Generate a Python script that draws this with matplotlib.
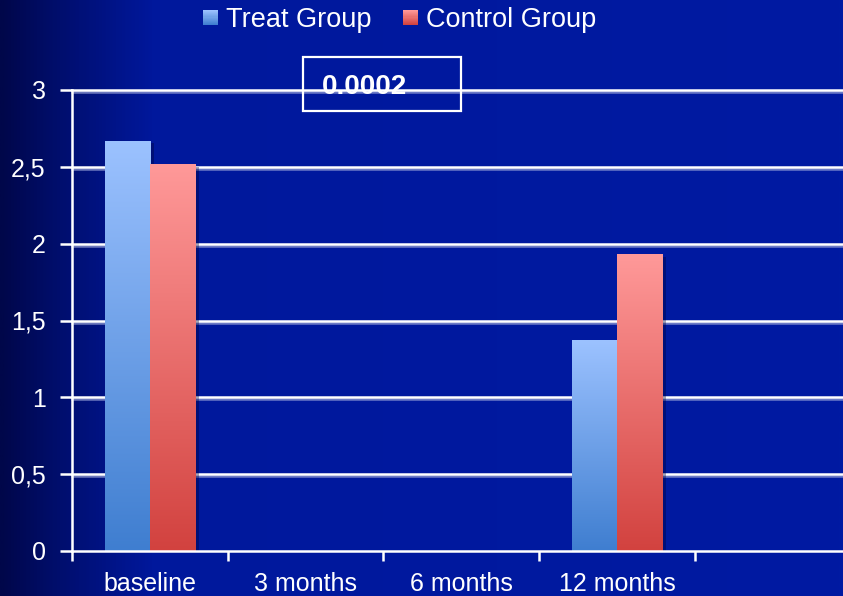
import numpy as np
import matplotlib
matplotlib.use("Agg")
import matplotlib.pyplot as plt
import matplotlib.patheffects as pe
from matplotlib.patches import Rectangle
from matplotlib.colors import LinearSegmentedColormap, to_rgb
from matplotlib.legend_handler import HandlerBase

# ---- data -------------------------------------------------------------
categories = ["baseline", "3 months", "6 months", "12 months", ""]
treat = [2.67, np.nan, np.nan, 1.37, np.nan]
control = [2.52, np.nan, np.nan, 1.93, np.nan]
y_ticks = [0, 0.5, 1, 1.5, 2, 2.5, 3]
y_tick_labels = ["0", "0,5", "1", "1,5", "2", "2,5", "3"]
series_names = ["Treat Group", "Control Group"]
p_value_label = "0.0002"

# ---- style ------------------------------------------------------------
plt.rcParams['font.family'] = ['Liberation Sans', 'DejaVu Sans']
TREAT_TOP, TREAT_BOTTOM = "#9cc2ff", "#3f7ed0"
CTRL_TOP, CTRL_BOTTOM = "#ff9999", "#d2423f"
W, H = 843, 596

fig = plt.figure(figsize=(W / 100, H / 100), dpi=100)

# background: dark navy on the left fading into royal blue
bg = fig.add_axes([0, 0, 1, 1], zorder=-10)
bg.set_axis_off()
bg_cmap = LinearSegmentedColormap.from_list(
    "bg", [(0.0, "#00074a"), (0.07, "#000e6e"), (0.18, "#00189c"), (1.0, "#001aa2")])
bg.imshow(np.linspace(0, 1, 800)[None, :], cmap=bg_cmap, aspect="auto",
          extent=[0, 1, 0, 1], interpolation="bilinear")

# plot area (in pixels: x 72..843, y 90..551)
ax_left, ax_right, ax_top, ax_bottom = 72, 843, 90, 551
ax = fig.add_axes([ax_left / W, 1 - ax_bottom / H,
                   (ax_right - ax_left) / W, (ax_bottom - ax_top) / H])
ax.patch.set_visible(False)

slot_px = 155.7
n = len(categories)
x = np.arange(n)
xlim = (-0.5, -0.5 + (ax_right - ax_left) / slot_px)
ylim = (0, 3)

# gridlines with a soft shadow
for yv in y_ticks[1:]:
    ax.axhline(yv, color="white", lw=1.8, zorder=1, clip_on=False,
               path_effects=[pe.SimpleLineShadow(offset=(0, -1.5), shadow_color="#9aa4d8", alpha=0.7),
                             pe.Normal()])

# bars with vertical gradients
bw = 0.29


def gradient_bars(xpos, values, c_top, c_bottom):
    bars = ax.bar(xpos, values, bw, color=c_bottom, zorder=3, linewidth=0,
                  path_effects=[pe.SimplePatchShadow(offset=(3, -2), shadow_rgbFace="#000030", alpha=0.35),
                                pe.Normal()])
    cmap = LinearSegmentedColormap.from_list("g", [c_bottom, c_top])
    for b, v in zip(bars, values):
        if not np.isfinite(v):
            continue
        x0 = b.get_x()
        im = ax.imshow(np.linspace(0, 1, 256)[:, None], cmap=cmap, origin="lower",
                       extent=[x0, x0 + b.get_width(), 0, v], aspect="auto",
                       zorder=4, interpolation="bilinear")
        im.set_clip_path(b)
    return bars


gradient_bars(x - bw / 2, treat, TREAT_TOP, TREAT_BOTTOM)
gradient_bars(x + bw / 2, control, CTRL_TOP, CTRL_BOTTOM)

# axes styling
for s in ["top", "right"]:
    ax.spines[s].set_visible(False)
for s in ["left", "bottom"]:
    ax.spines[s].set_color("white")
    ax.spines[s].set_linewidth(1.8)
    ax.spines[s].set_zorder(5)

ax.set_yticks(y_ticks)
ax.set_yticklabels(y_tick_labels)
ax.tick_params(axis="y", colors="white", length=9, width=1.8, pad=10, labelsize=18)

ax.set_xticks(np.arange(n + 1) - 0.5)
ax.set_xticklabels([])
ax.tick_params(axis="x", which="major", colors="white", length=7, width=1.8)
ax.set_xticks(x, minor=True)
ax.set_xticklabels(categories, minor=True)
ax.tick_params(axis="x", which="minor", length=0, pad=15, labelsize=18, labelcolor="white")

# limits last, since setting ticks can widen the view
ax.set_xlim(*xlim)
ax.set_ylim(*ylim)


# legend with gradient swatches
class GradientSwatch(HandlerBase):
    def __init__(self, c_top, c_bottom):
        super().__init__()
        self.top = np.array(to_rgb(c_top))
        self.bottom = np.array(to_rgb(c_bottom))

    def create_artists(self, legend, orig_handle, xdescent, ydescent, width,
                       height, fontsize, trans):
        steps = 14
        side = height * 0.8
        x0 = -xdescent + width - side
        y0 = -ydescent + (height - side) / 2
        arts = []
        for i in range(steps):
            t = i / (steps - 1)
            c = self.bottom * (1 - t) + self.top * t
            arts.append(Rectangle((x0, y0 + side * i / steps), side, side / steps + 0.3,
                                  facecolor=c, edgecolor="none", transform=trans))
        return arts


h1 = Rectangle((0, 0), 1, 1)
h2 = Rectangle((0, 0), 1, 1)
fig.legend([h1, h2], series_names, loc="center", bbox_to_anchor=(399 / W, 1 - 20 / H),
           ncol=2, frameon=False, fontsize=19.5, labelcolor="white",
           handlelength=0.6, handletextpad=0.3, columnspacing=1.1,
           handler_map={h1: GradientSwatch(TREAT_TOP, TREAT_BOTTOM),
                        h2: GradientSwatch(CTRL_TOP, CTRL_BOTTOM)})

# p-value box
bx0, bx1, by0, by1 = 303, 461, 57, 111
fig.patches.append(Rectangle((bx0 / W, 1 - by1 / H), (bx1 - bx0) / W, (by1 - by0) / H,
                             transform=fig.transFigure, fill=False,
                             edgecolor="white", linewidth=1.6, zorder=6))
fig.text(322 / W, 1 - 87 / H, p_value_label, color="white", fontsize=20,
         fontweight="bold", ha="left", va="center", zorder=7)

fig.savefig("out.png", dpi=100)
